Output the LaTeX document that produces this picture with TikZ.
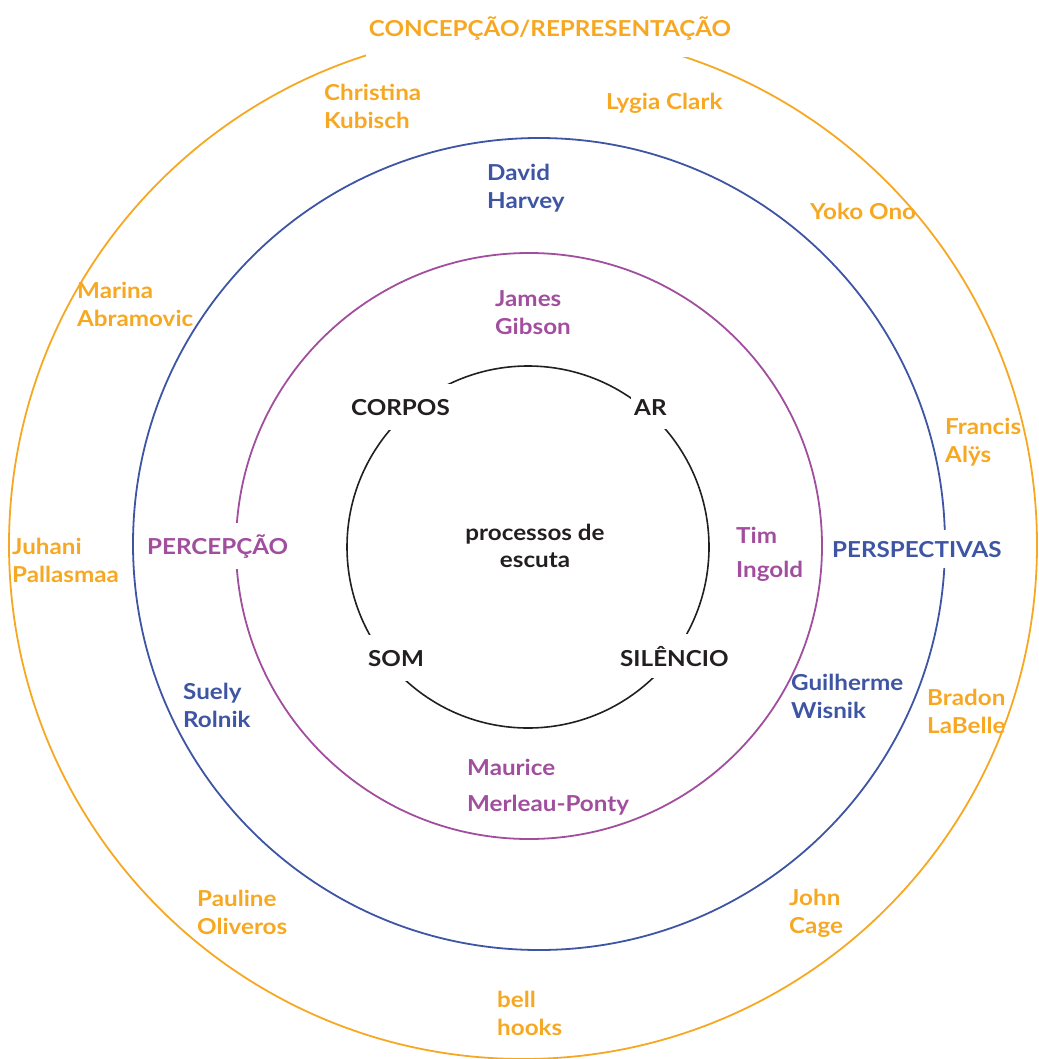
\documentclass[tikz,border=0pt]{standalone}
\usepackage{fontspec}
\setmainfont{Lato}[UprightFont=* Bold, FakeStretch=1.1]
\definecolor{corange}{HTML}{F7A823}
\definecolor{cblue}{HTML}{3E55A4}
\definecolor{cpurple}{HTML}{A14E9E}
\definecolor{cdark}{HTML}{231F20}
\newcommand{\twol}[3][0pt]{\begin{tabular}[t]{@{}l@{}}#2\\[#1]#3\end{tabular}}
\tikzset{
  lbl/.style={inner sep=0pt, anchor=base west, font=\fontsize{22}{28}\selectfont},
  orangetxt/.style={lbl, text=corange},
  bluetxt/.style={lbl, text=cblue},
  purpletxt/.style={lbl, text=cpurple},
  darktxt/.style={lbl, text=cdark},
  gap/.style={fill=white, inner xsep=3pt, inner ysep=13pt},
  ring/.style={line width=1.8pt}
}
\begin{document}
\begin{tikzpicture}[x=1pt,y=-1pt]
\useasboundingbox (0,0) rectangle (1038,1059);
% rings
\draw[ring, corange] (523,545) circle[radius=514];
\draw[ring, cblue] (539,544) circle[radius=406];
\draw[ring, cpurple] (529,546) circle[radius=293];
\draw[ring, cdark, line width=1.6pt] (528,547) circle[radius=181];

% ring titles (breaking the rings)
\node[orangetxt, anchor=base, fill=white, inner xsep=3pt, inner ysep=16pt] (concep) at (550,37) {CONCEPÇÃO/REPRESENTAÇÃO};
\node[bluetxt, gap, inner ysep=11pt] (persp) at (829,557) {PERSPECTIVAS};
\node[purpletxt, gap, inner ysep=11pt] (percep) at (144,554) {PERCEPÇÃO};

% inner circle labels
\node[darktxt, gap, inner ysep=15pt] (corpos) at (348,415) {CORPOS};
\node[darktxt, gap, inner ysep=14pt] (ar) at (631,415) {AR};
\node[darktxt, gap, inner ysep=15pt] (som) at (365,666) {SOM};
\node[darktxt, gap, inner ysep=12pt] (silencio) at (617,666) {SILÊNCIO};
\node[text=cdark, inner sep=0pt, anchor=base, align=center, font=\fontsize{22}{27}\selectfont] (centro) at (535,567) {processos de\\escuta};

% orange names
\node[orangetxt] (christina) at (324,101) {\twol{Christina}{Kubisch}};
\node[orangetxt] (lygia) at (606,110) {Lygia Clark};
\node[orangetxt] (yoko) at (810,220) {Yoko Ono};
\node[orangetxt] (marina) at (77,298) {\twol{Marina}{Abramovic}};
\node[orangetxt] (francis) at (945,434) {\twol{Francis}{Alÿs}};
\node[orangetxt] (juhani) at (12,554) {\twol{Juhani}{Pallasmaa}};
\node[orangetxt] (bradon) at (927,705) {\twol{Bradon}{LaBelle}};
\node[orangetxt] (pauline) at (197,906) {\twol{Pauline}{Oliveros}};
\node[orangetxt] (john) at (789,905) {\twol{John}{Cage}};
\node[orangetxt] (bell) at (497,1007) {\twol{bell}{hooks}};

% blue names
\node[bluetxt] (david) at (487,181) {\twol{David}{Harvey}};
\node[bluetxt] (suely) at (183,699) {\twol{Suely}{Rolnik}};
\node[bluetxt] (guilherme) at (791,690) {\twol{Guilherme}{Wisnik}};

% purple names
\node[purpletxt] (james) at (495,306) {\twol{James}{Gibson}};
\node[purpletxt] (tim) at (736,543) {\twol[6pt]{Tim}{Ingold}};
\node[purpletxt] (maurice) at (467,775) {\twol[8pt]{Maurice}{Merleau-Ponty}};
\end{tikzpicture}
\end{document}
